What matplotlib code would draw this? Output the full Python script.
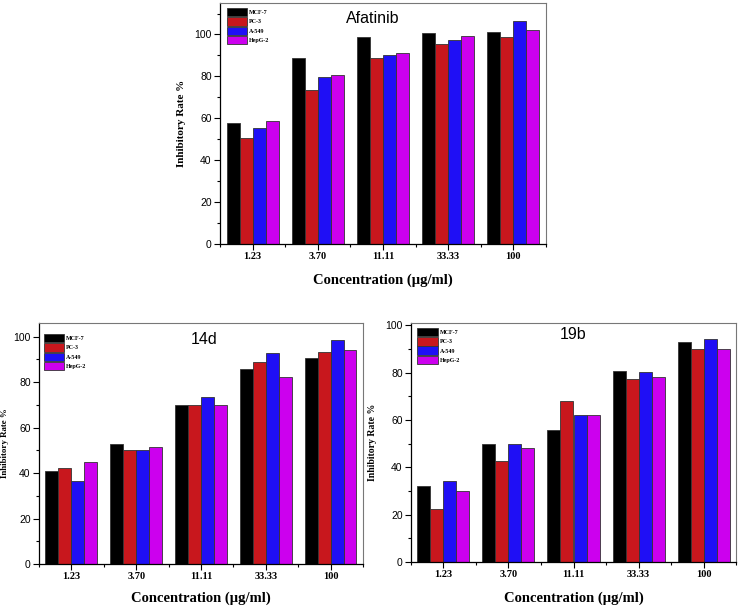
import numpy as np
import matplotlib
matplotlib.use("Agg")
from matplotlib import pyplot as plt
from matplotlib.ticker import MultipleLocator, FixedLocator

concentrations = ["1.23", "3.70", "11.11", "33.33", "100"]
cell_lines = ["MCF-7", "PC-3", "A-549", "HepG-2"]
colors = ["#000000", "#c8171d", "#1f0ff5", "#cc00ee"]

# inhibitory rate (%) per cell line, one value per concentration
afatinib_mcf7 = [57.8, 89.0, 98.7, 100.6, 101.1]
afatinib_pc3 = [50.6, 73.7, 89.0, 95.4, 98.9]
afatinib_a549 = [55.6, 79.7, 90.2, 97.6, 106.3]
afatinib_hepg2 = [58.7, 80.5, 91.3, 99.5, 102.1]

d14_mcf7 = [40.7, 52.6, 70.0, 85.7, 90.6]
d14_pc3 = [42.2, 50.3, 70.1, 88.7, 93.2]
d14_a549 = [36.3, 50.3, 73.4, 92.6, 98.7]
d14_hepg2 = [44.7, 51.5, 70.1, 82.2, 94.1]

b19_mcf7 = [32.3, 50.0, 55.6, 80.6, 92.8]
b19_pc3 = [22.5, 42.8, 68.1, 77.2, 90.0]
b19_a549 = [34.3, 50.0, 62.1, 80.1, 94.1]
b19_hepg2 = [29.8, 48.3, 62.1, 78.2, 90.2]

serif = "Liberation Serif"
sans = "Liberation Sans"


def panel(fig, rect, title, series, ymax, title_xy, ylabel_size, ylabel_pad,
          xlabel_pad, leg_anchor):
    ax = fig.add_axes(rect)
    x = np.arange(1, len(concentrations) + 1)
    w = 0.2
    for i, (vals, name) in enumerate(zip(series, cell_lines)):
        ax.bar(x + (i - 1.5) * w, vals, width=w, color=colors[i],
               edgecolor="#333333", linewidth=0.6, label=name)
    ax.set_xlim(0.5, 5.5)
    ax.set_ylim(0, ymax)
    ax.yaxis.set_major_locator(MultipleLocator(20))
    ax.yaxis.set_minor_locator(MultipleLocator(10))
    ax.set_xticks(x)
    ax.set_xticklabels(concentrations, fontfamily=serif, fontweight="bold", fontsize=7.5)
    ax.xaxis.set_minor_locator(FixedLocator(np.arange(0.5, 6.0, 1.0)))
    for lab in ax.get_yticklabels():
        lab.set_fontfamily(sans)
        lab.set_fontsize(7.5)
    ax.tick_params(which="major", direction="out", length=4, width=0.8, pad=2)
    ax.tick_params(which="minor", direction="out", length=2.5, width=0.8)
    for s in ["top", "right"]:
        ax.spines[s].set_color("#777777")
    ax.spines["left"].set_linewidth(0.9)
    ax.spines["bottom"].set_linewidth(0.9)
    ax.set_xlabel("Concentration (\u00b5g/ml)", fontfamily=serif, fontweight="bold",
                  fontsize=10.5, labelpad=xlabel_pad)
    ax.set_ylabel("Inhibitory Rate %", fontfamily=serif, fontweight="bold",
                  fontsize=ylabel_size, labelpad=ylabel_pad)
    ax.text(title_xy[0], title_xy[1], title, transform=ax.transAxes, ha="center",
            va="center", fontfamily=sans, fontsize=11.5)
    ax.legend(loc="upper left", bbox_to_anchor=leg_anchor, frameon=False,
              prop={"family": serif, "weight": "bold", "size": 4.3},
              handlelength=3.4, handleheight=1.8, labelspacing=0.15,
              handletextpad=0.3, borderpad=0, borderaxespad=0)
    return ax


fig = plt.figure(figsize=(7.4, 6.09), dpi=100)

panel(fig, [0.2973, 0.5993, 0.4405, 0.3957], "Afatinib",
      [afatinib_mcf7, afatinib_pc3, afatinib_a549, afatinib_hepg2],
      115, (0.47, 0.935), 8, 6, 9, (0.02, 0.98))
panel(fig, [0.0527, 0.0739, 0.4378, 0.3957], "14d",
      [d14_mcf7, d14_pc3, d14_a549, d14_hepg2],
      106, (0.51, 0.93), 6.4, 3, 7, (0.015, 0.955))
panel(fig, [0.5554, 0.0772, 0.4392, 0.3924], "19b",
      [b19_mcf7, b19_pc3, b19_a549, b19_hepg2],
      101, (0.5, 0.95), 7, 6, 9, (0.02, 0.98))

fig.savefig("out.png", dpi=100)
